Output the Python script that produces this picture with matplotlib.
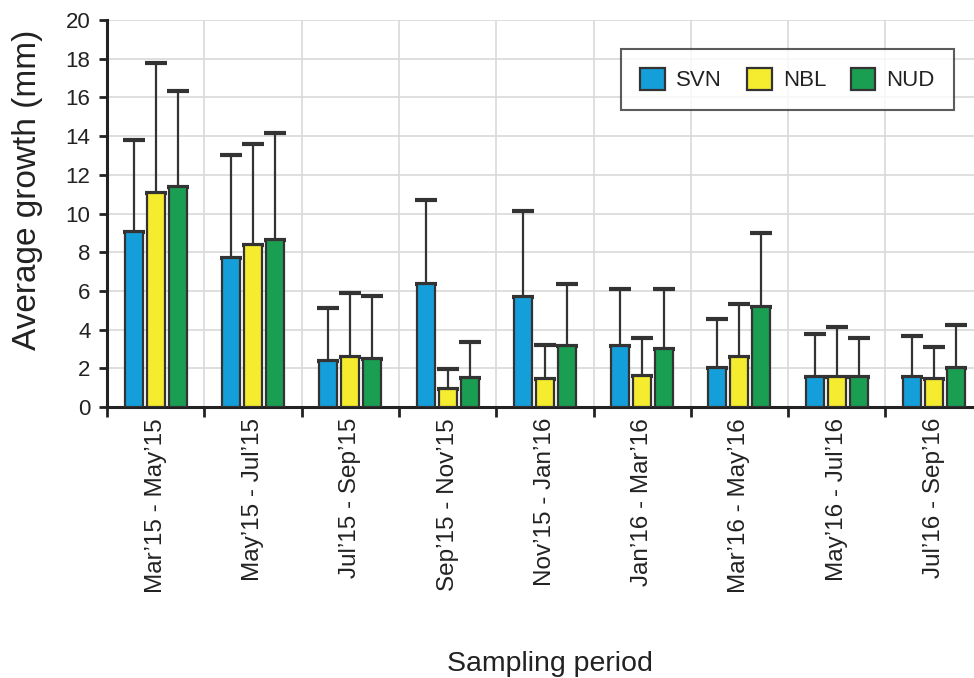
import numpy as np
import matplotlib
matplotlib.use("Agg")
import matplotlib.pyplot as plt

plt.rcParams["font.family"] = ["Liberation Sans", "DejaVu Sans"]

periods = ["Mar\u201915 - May\u201915", "May\u201915 - Jul\u201915", "Jul\u201915 - Sep\u201915",
           "Sep\u201915 - Nov\u201915", "Nov\u201915 - Jan\u201916", "Jan\u201916 - Mar\u201916",
           "Mar\u201916 - May\u201916", "May\u201916 - Jul\u201916", "Jul\u201916 - Sep\u201916"]
series = ["SVN", "NBL", "NUD"]

svn_mean = [9.05, 7.70, 2.40, 6.38, 5.70, 3.14, 2.03, 1.57, 1.56]
nbl_mean = [11.06, 8.37, 2.60, 0.94, 1.46, 1.58, 2.58, 1.57, 1.46]
nud_mean = [11.38, 8.61, 2.50, 1.48, 3.14, 3.02, 5.15, 1.57, 2.02]

svn_sd = [4.75, 5.32, 2.72, 4.32, 4.42, 2.97, 2.53, 2.20, 2.09]
nbl_sd = [6.74, 5.22, 3.30, 1.04, 1.76, 1.97, 2.74, 2.55, 1.66]
nud_sd = [4.97, 5.55, 3.25, 1.86, 3.20, 3.06, 3.85, 1.98, 2.20]

colors = ["#149fda", "#f5ec30", "#1a9e52"]
edge = "#333333"

fig = plt.figure(figsize=(9.74, 6.78), dpi=100)
ax = fig.add_axes([0.1099, 0.3997, 0.899, 0.5708])

x = np.arange(len(periods))
width = 0.185
offsets = [-0.226, 0.0, 0.226]
means = [svn_mean, nbl_mean, nud_mean]
sds = [svn_sd, nbl_sd, nud_sd]

for i, name in enumerate(series):
    ax.bar(x + offsets[i], means[i], width, color=colors[i], edgecolor=edge,
           linewidth=1.6, label=name, zorder=3,
           yerr=[np.zeros(len(x)), sds[i]],
           error_kw=dict(ecolor=edge, elinewidth=1.6, capsize=8, capthick=3, zorder=2))

ax.set_xlim(-0.5, len(periods) - 0.5)
ax.set_ylim(0, 20)
ax.set_yticks(np.arange(0, 21, 2))
ax.tick_params(axis="y", labelsize=16, direction="out", length=6, width=2,
               colors="#222222", pad=6)

# boundaries as major ticks, labels at group centres
ax.set_xticks(np.arange(len(periods) + 1) - 0.5)
ax.set_xticklabels([])
ax.set_xticks(x, minor=True)
ax.set_xticklabels(periods, minor=True, rotation=90, fontsize=17.5, color="#222222")
ax.tick_params(axis="x", which="major", direction="out", length=7, width=2, color="#222222")
ax.tick_params(axis="x", which="minor", length=0, pad=8)

ax.grid(True, which="major", color="#d9d9d9", linewidth=1.2, zorder=0)
ax.set_axisbelow(True)
for s in ["top", "right"]:
    ax.spines[s].set_visible(False)
for s in ["left", "bottom"]:
    ax.spines[s].set_linewidth(2.2)
    ax.spines[s].set_color("#222222")

ax.set_ylabel("Average growth (mm)", fontsize=24, color="#222222")
ax.yaxis.set_label_coords(-0.073, 0.56)
ax.set_xlabel("Sampling period", fontsize=20.5, color="#222222")
ax.xaxis.set_label_coords(0.5057, -0.664)
ax.xaxis.label.set_verticalalignment("center")

leg = ax.legend(loc="upper right", bbox_to_anchor=(0.967, 0.925), ncol=3, fontsize=16,
                frameon=True, fancybox=False, edgecolor="#333333", borderpad=0.85,
                handlelength=1.12, handleheight=1.12, columnspacing=1.1, handletextpad=0.5,
                borderaxespad=0)
leg.get_frame().set_linewidth(1.5)
for t in leg.get_texts():
    t.set_color("#222222")

fig.savefig("out.png", dpi=100, facecolor="white")
